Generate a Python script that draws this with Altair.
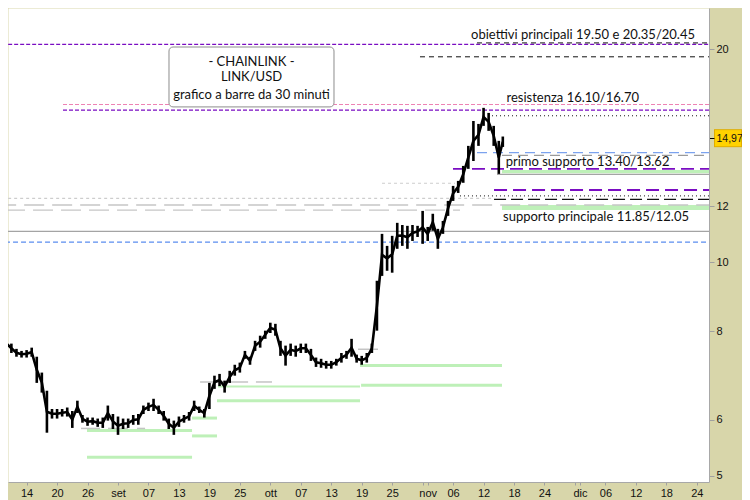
import json
import altair as alt
import pandas as pd

# ---------------- data ----------------
price_dates = [
    "2023-08-09", "2023-08-10", "2023-08-11", "2023-08-12", "2023-08-13", "2023-08-14", "2023-08-15",
    "2023-08-16", "2023-08-17", "2023-08-18", "2023-08-19", "2023-08-20", "2023-08-21", "2023-08-22",
    "2023-08-23", "2023-08-24", "2023-08-25", "2023-08-26", "2023-08-27", "2023-08-28", "2023-08-29",
    "2023-08-30", "2023-08-31", "2023-09-01", "2023-09-02", "2023-09-03", "2023-09-04", "2023-09-05",
    "2023-09-06", "2023-09-07", "2023-09-08", "2023-09-09", "2023-09-10", "2023-09-11", "2023-09-12",
    "2023-09-13", "2023-09-14", "2023-09-15", "2023-09-16", "2023-09-17", "2023-09-18", "2023-09-19",
    "2023-09-20", "2023-09-21", "2023-09-22", "2023-09-23", "2023-09-24", "2023-09-25", "2023-09-26",
    "2023-09-27", "2023-09-28", "2023-09-29", "2023-09-30", "2023-10-01", "2023-10-02", "2023-10-03",
    "2023-10-04", "2023-10-05", "2023-10-06", "2023-10-07", "2023-10-08", "2023-10-09", "2023-10-10",
    "2023-10-11", "2023-10-12", "2023-10-13", "2023-10-14", "2023-10-15", "2023-10-16", "2023-10-17",
    "2023-10-18", "2023-10-19", "2023-10-20", "2023-10-21", "2023-10-22", "2023-10-23", "2023-10-24",
    "2023-10-25", "2023-10-26", "2023-10-27", "2023-10-28", "2023-10-29", "2023-10-30", "2023-10-31",
    "2023-11-01", "2023-11-02", "2023-11-03", "2023-11-04", "2023-11-05", "2023-11-06", "2023-11-07",
    "2023-11-08", "2023-11-09", "2023-11-10", "2023-11-11", "2023-11-12", "2023-11-13", "2023-11-14",
    "2023-11-15", "2023-11-15 19:00",
]
price_high = [
    7.50, 7.88, 7.68, 7.55, 7.50, 7.52, 7.58,
    7.36, 6.99, 6.59, 6.21, 6.21, 6.21, 6.24,
    6.17, 6.38, 6.09, 6.04, 6.04, 6.02, 6.04,
    6.28, 6.11, 6.06, 6.02, 6.02, 6.09, 6.11,
    6.28, 6.34, 6.42, 6.28, 6.17, 6.02, 5.98,
    6.06, 6.09, 6.15, 6.38, 6.26, 6.21, 6.76,
    6.92, 6.96, 6.81, 7.03, 7.17, 7.22, 7.50,
    7.36, 7.75, 7.88, 8.01, 8.22, 8.19, 7.75,
    7.63, 7.68, 7.63, 7.68, 7.68, 7.55, 7.34,
    7.31, 7.26, 7.26, 7.31, 7.45, 7.50, 7.80,
    7.41, 7.38, 7.45, 7.68, 9.42, 10.97, 10.55,
    10.90, 11.37, 11.29, 11.26, 11.29, 11.26, 11.82,
    11.22, 11.71, 11.15, 11.44, 12.21, 12.82, 13.03,
    13.68, 14.60, 15.83, 15.68, 16.52, 16.25, 15.58,
    14.84, 15.05,
]
price_low = [
    7.31, 7.50, 7.45, 7.36, 7.34, 7.34, 7.36,
    6.76, 6.55, 5.75, 6.02, 6.02, 6.06, 6.06,
    5.84, 6.13, 5.94, 5.88, 5.90, 5.86, 5.84,
    5.98, 5.82, 5.71, 5.82, 5.84, 5.90, 5.90,
    6.11, 6.17, 6.17, 6.11, 5.98, 5.82, 5.71,
    5.86, 5.94, 5.98, 6.17, 6.13, 6.04, 6.21,
    6.63, 6.69, 6.55, 6.76, 6.92, 6.99, 7.31,
    7.17, 7.50, 7.58, 7.80, 7.95, 7.88, 7.38,
    7.15, 7.38, 7.36, 7.45, 7.45, 7.26, 7.12,
    7.10, 7.08, 7.08, 7.15, 7.22, 7.31, 7.36,
    7.22, 7.17, 7.22, 7.45, 8.01, 9.57, 9.73,
    9.67, 10.45, 10.55, 10.45, 10.72, 10.86, 10.62,
    10.72, 11.08, 10.45, 10.97, 11.63, 12.21, 12.53,
    12.95, 13.55, 13.90, 14.60, 15.58, 15.33, 14.60,
    13.33, 14.55,
]
last_price = 14.97

tick_dates = [
    "2023-08-14", "2023-08-20", "2023-08-26", "2023-09-01", "2023-09-07", "2023-09-13", "2023-09-19",
    "2023-09-25", "2023-10-01", "2023-10-07", "2023-10-13", "2023-10-19", "2023-10-25", "2023-10-31",
    "2023-11-01", "2023-11-06", "2023-11-12", "2023-11-18", "2023-11-24", "2023-11-30", "2023-12-01",
    "2023-12-06", "2023-12-12", "2023-12-18", "2023-12-24",
]
tick_labels = [
    "14", "20", "26", "set", "07", "13", "19",
    "25", "ott", "07", "13", "19", "25", "",
    "nov", "06", "12", "18", "24", "", "dic",
    "06", "12", "18", "24",
]
price_ticks = [5, 6, 8, 10, 12, 14.97, 20]

# horizontal levels: kind, price, from, to
level_kind = [
    "purple", "black_dash", "black_dash", "pink", "purple", "black_dot",
    "blue_long", "grey_long", "purple_long", "grey_solid", "grey_light_dash",
    "purple_long", "black_dot", "grey_light_dash", "black_long", "grey_long_light",
    "grey_long_light", "grey_solid", "blue_short",
    "green", "green", "green", "green", "green_thin", "green", "green", "green",
    "grey_seg", "grey_seg", "grey_seg", "grey_seg", "grey_seg", "grey_seg",
]
level_price = [
    20.30, 20.40, 19.50, 16.70, 16.40, 16.10,
    14.28, 14.16, 13.55, 13.31, 12.93,
    12.65, 12.41, 12.31, 12.27, 12.05,
    11.85, 11.06, 10.68,
    5.79, 5.31, 6.03, 5.69, 6.68, 6.38, 7.15, 6.71,
    5.83, 5.83, 5.83, 6.78, 6.78, 7.54,
]
level_from = [
    "2023-08-08", "2023-11-10 17:00", "2023-10-30 11:30", "2023-08-21 04:00", "2023-08-21 04:00", "2023-11-13 16:00",
    "2023-11-10 17:00", "2023-11-15 15:00", "2023-11-05 23:30", "2023-11-14 15:30", "2023-10-23 00:00",
    "2023-11-14 01:30", "2023-11-07 08:30", "2023-08-08", "2023-11-14 01:30", "2023-08-08",
    "2023-08-09 18:00", "2023-08-08", "2023-08-09 18:00",
    "2023-08-25 21:30", "2023-08-25 21:30", "2023-09-15 14:00", "2023-09-15 14:00", "2023-09-20 17:00",
    "2023-09-20 12:00", "2023-10-18 16:00", "2023-10-18 21:00",
    "2023-08-24 17:00", "2023-08-30 01:00", "2023-09-04 18:00", "2023-09-17 04:00", "2023-09-28 04:00",
    "2023-10-18 06:30",
]
level_to = [
    "2023-12-28", "2023-12-28", "2023-12-28", "2023-12-28", "2023-12-28", "2023-12-28",
    "2023-12-28", "2023-12-28", "2023-12-28", "2023-12-28", "2023-11-06 09:00",
    "2023-12-28", "2023-12-28", "2023-11-14 01:30", "2023-12-28", "2023-12-28",
    "2023-11-07 08:30", "2023-12-28", "2023-12-28",
    "2023-09-15 14:00", "2023-09-15 14:00", "2023-09-20 12:00", "2023-09-20 12:00", "2023-10-18 16:00",
    "2023-10-18 16:00", "2023-11-15 15:00", "2023-11-15 15:00",
    "2023-08-28 11:00", "2023-09-02 23:00", "2023-09-06 08:00", "2023-09-26 15:00", "2023-10-01 08:00",
    "2023-10-22 05:00",
]

# support bands: low, high, from, to
band_low = [13.36, 11.85]
band_high = [13.50, 12.05]
band_from = ["2023-11-15 15:00", "2023-11-15 15:00"]
band_to = ["2023-12-28", "2023-12-28"]

# annotations
note_text = [
    "obiettivi principali 19.50 e 20.35/20.45",
    "resistenza 16.10/16.70",
    "primo supporto 13.40/13.62",
    "supporto principale 11.85/12.05",
]
note_date = ["2023-11-09 13:00", "2023-11-16 12:30", "2023-11-16 08:40", "2023-11-15 20:00"]
note_price = [20.93, 17.04, 13.87, 11.60]

title_lines = ["- CHAINLINK -", "LINK/USD", "grafico a barre da 30 minuti"]
title_prices = [19.17, 18.26, 17.22]
title_center = "2023-09-27 07:00"
box_from, box_to = "2023-09-11 01:00", "2023-10-13 13:00"
box_top, box_bottom = 20.13, 16.57

# ---------------- build ----------------
BASE = pd.Timestamp("2023-09-01")


def dnum(s):
    return (pd.Timestamp(s) - BASE) / pd.Timedelta(days=1)


W, H = 701, 474
xs = alt.Scale(domain=[dnum("2023-08-10 08:00"), dnum("2023-12-26 09:40")], nice=False, zero=False)
ys = alt.Scale(type="log", domain=[4.899, 22.85], nice=False)

tick_vals = [dnum(s) for s in tick_dates]
x_axis = alt.Axis(
    values=tick_vals,
    labelExpr=f"{json.dumps(tick_labels)}[indexof({json.dumps(tick_vals)}, datum.value)]",
    title=None, grid=False, orient="bottom",
    tickSize=3, tickColor="#A0A0A0", domainColor="#A8A8A8",
    labelPadding=2, labelFlush=False, labelOverlap=False,
    labelFont="Liberation Sans", labelFontSize=11, labelColor="#111111",
)
y_axis = alt.Axis(
    values=price_ticks, orient="right", title=None, grid=False,
    labelExpr="datum.value == 14.97 ? '14,97' : format(datum.value, 'd')",
    tickSize=5, tickColor={"condition": {"test": "datum.value == 14.97", "value": "#000000"}, "value": "#A0A0A0"},
    domainColor="#A8A8A8", labelPadding=2, labelOverlap=False, labelFlush=False,
    labelFont="Liberation Sans",
    labelFontSize={"condition": {"test": "datum.value == 14.97", "value": 10.5}, "value": 11},
    labelColor="#111111", zindex=1,
)

price_df = pd.DataFrame({"d": [dnum(s) for s in price_dates], "high": price_high, "low": price_low})
lev_df = pd.DataFrame({
    "kind": level_kind, "price": level_price,
    "x0": [dnum(s) for s in level_from], "x1": [dnum(s) for s in level_to],
})
band_df = pd.DataFrame({"lo": band_low, "hi": band_high,
                        "x0": [dnum(s) for s in band_from], "x1": [dnum(s) for s in band_to]})
note_df = pd.DataFrame({"t": note_text, "d": [dnum(s) for s in note_date], "p": note_price})
title_df = pd.DataFrame({"t": title_lines, "p": title_prices, "d": [dnum(title_center)] * 3})
box_df = pd.DataFrame({"x0": [dnum(box_from)], "x1": [dnum(box_to)], "top": [box_top], "bot": [box_bottom]})
last_df = pd.DataFrame({"p": [last_price]})

STYLES = {
    "purple": dict(color="#7A0DC2", strokeDash=[4, 2], strokeWidth=1.2),
    "pink": dict(color="#EE82B4", strokeDash=[4, 2], strokeWidth=1.2),
    "black_dash": dict(color="#111111", strokeDash=[5, 4], strokeWidth=1),
    "black_dot": dict(color="#111111", strokeDash=[1, 3], strokeWidth=1),
    "black_long": dict(color="#111111", strokeDash=[12, 5], strokeWidth=1.2),
    "blue_long": dict(color="#7BA2EE", strokeDash=[10, 6], strokeWidth=1.3),
    "blue_short": dict(color="#5B8DEF", strokeDash=[5, 3], strokeWidth=1.2),
    "grey_long": dict(color="#9A9A9A", strokeDash=[10, 6], strokeWidth=1.3),
    "grey_long_light": dict(color="#C6C6C6", strokeDash=[20, 8], strokeWidth=1.4),
    "grey_solid": dict(color="#A4A4A4", strokeWidth=1.3),
    "grey_light_dash": dict(color="#CDCDCD", strokeDash=[3, 3], strokeWidth=1.2),
    "purple_long": dict(color="#7A0DC2", strokeDash=[13, 6], strokeWidth=1.8),
    "green": dict(color="#BEF0B8", strokeWidth=3),
    "green_thin": dict(color="#BEF0B8", strokeWidth=2),
    "grey_seg": dict(color="#C4C4C4", strokeWidth=1.5),
}

X = lambda f: alt.X(f, scale=xs, axis=x_axis)
Y = lambda f: alt.Y(f, scale=ys, axis=y_axis)

layers = []
layers.append(
    alt.Chart(band_df).mark_rect(color="#BEF0B8", clip=True).encode(x=X("x0:Q"), x2="x1:Q", y=Y("hi:Q"), y2="lo:Q")
)
for kind, style in STYLES.items():
    layers.append(
        alt.Chart(lev_df).transform_filter(alt.datum.kind == kind).mark_rule(clip=True, **style).encode(
            x=X("x0:Q"), x2="x1:Q", y=Y("price:Q"),
        )
    )

price_bars = alt.Chart(price_df).mark_rule(color="#000000", strokeWidth=2.6, clip=True).encode(
    x=X("d:Q"), y=Y("high:Q"), y2="low:Q",
)
price_line = alt.Chart(price_df).transform_calculate(
    mid="sqrt(datum.high * datum.low)"
).mark_line(color="#000000", strokeWidth=2.6, clip=True).encode(x=X("d:Q"), y=Y("mid:Q"))
layers += [price_line, price_bars]

box = alt.Chart(box_df).mark_rect(fill="white", stroke="#8C8C8C", strokeWidth=1, cornerRadius=4).encode(
    x=X("x0:Q"), x2="x1:Q", y=Y("top:Q"), y2="bot:Q",
)
layers.append(box)

ANNOT_FONT = "Lato"
titles = alt.Chart(title_df).mark_text(font=ANNOT_FONT, fontSize=13, align="center", baseline="middle", color="#111111").encode(
    x=X("d:Q"), y=Y("p:Q"), text="t:N",
)
notes = alt.Chart(note_df).mark_text(font=ANNOT_FONT, fontSize=13, align="left", baseline="middle", color="#111111").encode(
    x=X("d:Q"), y=Y("p:Q"), text="t:N",
)
layers += [titles, notes]

# last price marker on the right axis
marker_border = alt.Chart(last_df).mark_rule(color="#E0AE00", strokeWidth=18, clip=False).encode(
    x=alt.value(W + 5), x2=alt.value(W + 33), y=Y("p:Q"),
)
marker_fill = alt.Chart(last_df).mark_rule(color="#FFD200", strokeWidth=16, clip=False).encode(
    x=alt.value(W + 6), x2=alt.value(W + 32), y=Y("p:Q"),
)
layers += [marker_border, marker_fill]

chart = alt.layer(*layers).properties(
    width=W, height=H,
    padding={"left": 0, "top": 0, "right": 33, "bottom": 18},
    autosize=alt.AutoSizeParams(type="none"),
).configure(background="#D8D6AA").configure_view(fill="white", stroke="transparent")

chart.save("out.html", embed_options={"renderer": "svg", "actions": False})
